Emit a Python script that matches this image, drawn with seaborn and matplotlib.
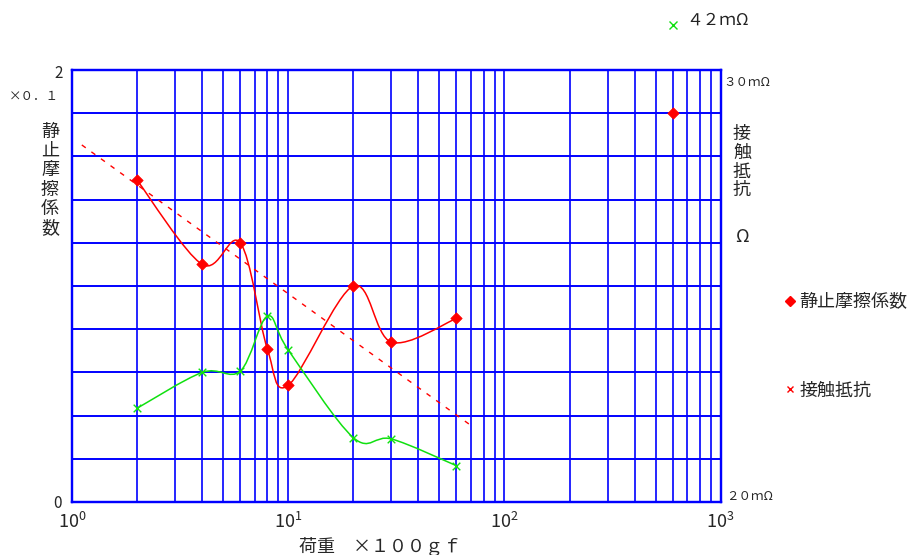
import numpy as np
import matplotlib
matplotlib.use("Agg")
import matplotlib.pyplot as plt
from matplotlib.path import Path
from matplotlib.patches import PathPatch
from matplotlib.lines import Line2D
from matplotlib import ticker, transforms
import seaborn as sns

# Load (x100 gf)
load = [2, 4, 6, 8, 10, 20, 30, 60]
# Static friction coefficient (x0.1)
friction = [1.49, 1.10, 1.20, 0.71, 0.54, 1.00, 0.74, 0.85]
friction_far_load = [600]
friction_far = [1.80]
# Contact resistance (mOhm)
resistance = [22.17, 23.00, 23.03, 24.30, 23.52, 21.49, 21.46, 20.84]
resistance_far_load = [600]
resistance_far = [42]
# Dashed guide line
guide_load = [1.11, 70.5]
guide_value = [1.653, 0.352]

x_ticks = [1, 10, 100, 1000]
y_gridlines = [0.0, 0.2, 0.4, 0.6, 0.8, 1.0, 1.2, 1.4, 1.6, 1.8, 2.0]

sns.set_style("white")
plt.rcParams["font.family"] = ["Noto Sans CJK JP", "DejaVu Sans"]

W, H = 914, 555
fig = plt.figure(figsize=(W / 100, H / 100), dpi=100)


def fxy(x, y):
    return x / W, 1 - y / H


left, right, top, bottom = 72, 720.7, 70, 502
ax = fig.add_axes([left / W, 1 - bottom / H, (right - left) / W, (bottom - top) / H])
ax2 = ax.twinx()

BLUE = "#0000FF"
RED = "#FF0000"
GREEN = "#10E010"


def smooth_patch(xs, ys, color, lw):
    """Catmull-Rom curve through the points, built as cubic Bezier segments in log-x space."""
    lx = np.log10(np.asarray(xs, float))
    y = np.asarray(ys, float)
    pts = np.column_stack([lx, y])
    n = len(pts)
    verts = [pts[0]]
    codes = [Path.MOVETO]
    for i in range(n - 1):
        p0 = pts[max(i - 1, 0)]
        p1 = pts[i]
        p2 = pts[i + 1]
        p3 = pts[min(i + 2, n - 1)]
        c1 = p1 + (p2 - p0) / 6.0
        c2 = p2 - (p3 - p1) / 6.0
        verts += [c1, c2, p2]
        codes += [Path.CURVE4] * 3
    verts = np.array(verts)
    verts[:, 0] = 10 ** verts[:, 0]
    return PathPatch(Path(verts, codes), facecolor="none", edgecolor=color, lw=lw,
                     capstyle="round", joinstyle="round")


# Axes and grid
ax.set_xscale("log")
ax.set_xlim(1, 1000)
ax.set_ylim(0, 2)
ax2.set_ylim(20, 30)
ax.xaxis.set_major_locator(ticker.FixedLocator(x_ticks))
ax.xaxis.set_minor_locator(ticker.LogLocator(base=10, subs=range(2, 10)))
ax.xaxis.set_minor_formatter(ticker.NullFormatter())
ax.xaxis.set_major_formatter(ticker.FuncFormatter(
    lambda v, p: r"$\mathregular{10^{%d}}$" % round(np.log10(v))))
ax.set_yticks(y_gridlines)
ax.set_yticklabels([])
ax.grid(True, which="both", axis="x", color=BLUE, lw=1.2)
ax.grid(True, which="major", axis="y", color=BLUE, lw=1.4)
ax.tick_params(axis="both", which="both", length=0)
ax.tick_params(axis="x", labelsize=13, pad=7)
ax2.set_yticks([])
for a in (ax, ax2):
    for s in a.spines.values():
        s.set_color(BLUE)
        s.set_linewidth(1.6)
ax.set_axisbelow(True)

# Friction series: smoothed line + diamonds
ax.add_patch(smooth_patch(load, friction, RED, 1.1))
sns.scatterplot(x=load, y=friction, ax=ax, marker="D", color=RED, edgecolor=RED,
                s=34, zorder=5, legend=False)
sns.scatterplot(x=friction_far_load, y=friction_far, ax=ax, marker="D", color=RED,
                edgecolor=RED, s=34, zorder=5, legend=False)
# Dashed guide
sns.lineplot(x=guide_load, y=guide_value, ax=ax, color=RED, lw=1.0,
             linestyle=(0, (3.5, 5)), legend=False)

# Contact resistance series on the right scale
ax2.add_patch(smooth_patch(load, resistance, GREEN, 1.1))
sns.scatterplot(x=load, y=resistance, ax=ax2, marker="x", color=GREEN, s=30,
                linewidth=1.0, zorder=5, legend=False)
ax2.set_ylim(20, 30)

# Off-scale resistance point, shown above the plot
off = transforms.blended_transform_factory(ax2.transData, fig.transFigure)
ax2.plot(resistance_far_load, [1 - 25 / H], marker="x", color=GREEN, ms=6, mew=1.0,
         transform=off, clip_on=False, linestyle="none")
fig.text(*fxy(686, 20), "４２ｍΩ", fontsize=12, ha="left", va="center", color="#222222")

# Axis texts
fig.text(*fxy(63, 73), "2", fontsize=11, ha="right", va="center")
fig.text(*fxy(62, 503), "0", fontsize=11, ha="right", va="center")
fig.text(*fxy(34, 97), "×０．１", fontsize=9, ha="center", va="center")
fig.text(*fxy(50, 180), "静\n止\n摩\n擦\n係\n数", fontsize=13, ha="center",
         va="center", linespacing=1.1)
fig.text(*fxy(723, 82), "３０ｍΩ", fontsize=9, ha="left", va="center")
fig.text(*fxy(726, 497), "２０ｍΩ", fontsize=9, ha="left", va="center")
fig.text(*fxy(742, 162), "接\n触\n抵\n抗", fontsize=13, ha="center", va="center",
         linespacing=1.05)
fig.text(*fxy(742, 237), "Ω", fontsize=13, ha="center", va="center")
fig.text(*fxy(380, 546), "荷重　×１００ｇｆ", fontsize=13, ha="center", va="center")

# Legend
handles = [
    Line2D([], [], marker="D", color=RED, linestyle="none", ms=5.5),
    Line2D([], [], marker="x", color=RED, linestyle="none", ms=5, mew=1.0),
]
fig.legend(handles, ["静止摩擦係数", "接触抵抗"], loc="upper left",
           bbox_to_anchor=fxy(776, 284), frameon=False, fontsize=13,
           handlelength=0.6, handletextpad=0.2, labelspacing=3.9, borderpad=0)

fig.savefig("out.png", dpi=100, facecolor="white")
